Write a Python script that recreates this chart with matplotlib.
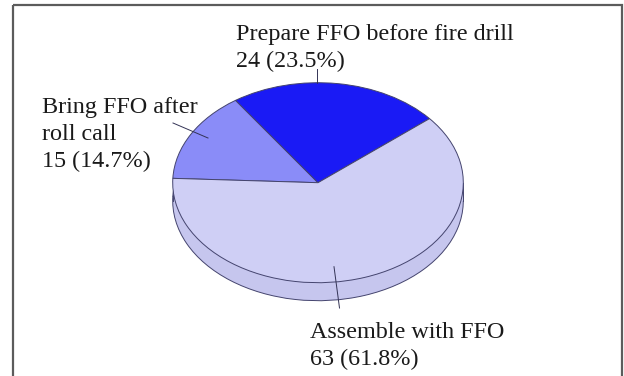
import numpy as np
import matplotlib.pyplot as plt
from matplotlib.patches import Rectangle

names = ['Bring FFO after\nroll call', 'Prepare FFO before fire drill', 'Assemble with FFO']
counts = [15, 24, 63]
top_colors = ['#8a8cf8', '#1a1af5', '#cfcff5']
side_colors = ['#7a7ce8', '#1414d8', '#c6c6ee']

W, H = 624, 376
fig = plt.figure(figsize=(W / 100, H / 100), dpi=100)

# pie centre and radii in pixels (y from top)
cx, cy = 318, 182.7
rx, ry = 145.3, 100.0
depth = 0.18  # disc thickness in vertical data units

ax = fig.add_axes([0, 0, 1, 1])
edge = dict(edgecolor='#44446e', linewidth=0.7)

# lower face, then the cylinder wall, then the top face
ax.pie(counts, colors=side_colors, startangle=177.5, counterclock=False,
       center=(0, -depth), wedgeprops=edge)
ax.add_patch(Rectangle((-1, -depth), 2, depth, facecolor=side_colors[2],
                       edgecolor='none', zorder=1.5))
ax.plot([-1, -1], [-depth, 0], color='#44446e', lw=0.7, zorder=1.6)
ax.plot([1, 1], [-depth, 0], color='#44446e', lw=0.7, zorder=1.6)
wedges, _ = ax.pie(counts, colors=top_colors, startangle=177.5, counterclock=False,
                   wedgeprops=edge)
for w in wedges:
    w.set_zorder(2)

ax.set_aspect('auto')
ax.set_xlim(-cx / rx, (W - cx) / rx)
ax.set_ylim(-(H - cy) / ry, cy / ry)
ax.axis('off')

# overlay in pixel coordinates for labels, leader lines and frame
ov = fig.add_axes([0, 0, 1, 1], zorder=5)
ov.set_xlim(0, W)
ov.set_ylim(H, 0)
ov.axis('off')
ov.patch.set_alpha(0)

total = sum(counts)
labels = [f'{n}\n{c} ({c / total * 100:.1f}%)' for n, c in zip(names, counts)]
label_pos = [(42.5, 97.5), (236.5, 24), (310, 322.5)]
leaders = [[(173, 123), (208, 138)], [(316.7, 69), (316.7, 82.7)], [(339.5, 308), (334, 266.7)]]

for lab, (x, y), ln in zip(labels, label_pos, leaders):
    ov.text(x, y, lab, family='Liberation Serif', fontsize=17.4, va='top', ha='left',
            color='#1a1a1a', linespacing=1.35)
    (x0, y0), (x1, y1) = ln
    ov.plot([x0, x1], [y0, y1], color='#333355', lw=0.7)

ov.add_patch(Rectangle((12.5, 4.5), 609, 380, fill=False, edgecolor='#5c5c5c', lw=1.6))

fig.savefig('out.png', dpi=100)
